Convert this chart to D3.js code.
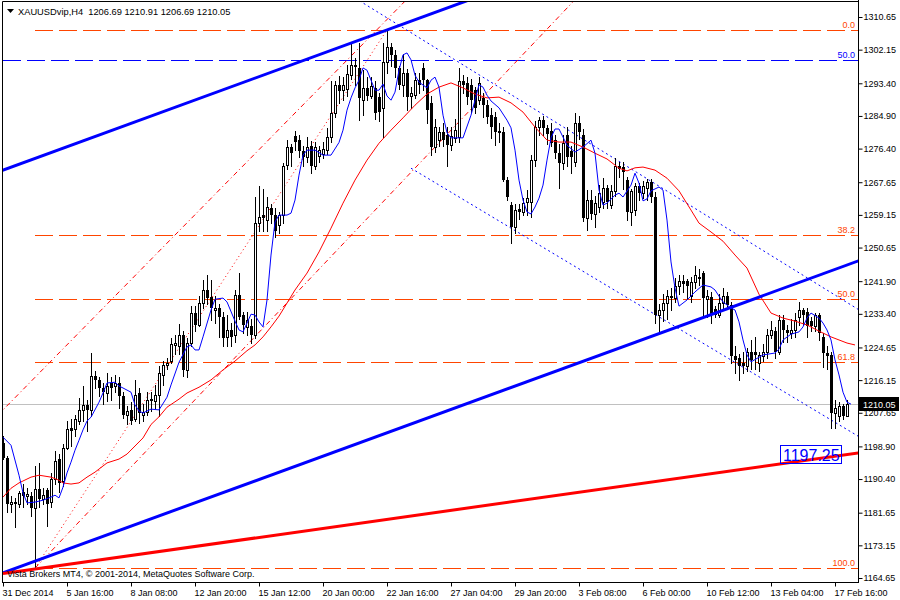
<!DOCTYPE html>
<html>
<head>
<meta charset="utf-8">
<script src="https://cdn.jsdelivr.net/npm/d3@7/dist/d3.min.js"></script>
<style>
	body { margin: 0; background: #fff; }
	text { font-family: "Liberation Sans", Arial, sans-serif; }
</style>
</head>
<body>
<script>

// ---------------- data (XAUUSDvip, H4) ----------------
var opens = [
	1199.9,1196.0,1184.0,1184.3,1183.8,1187.0,1186.0,1186.0,1182.8,1187.9,
	1185.1,1187.5,1184.3,1190.3,1195.5,1190.0,1198.5,1203.8,1203.3,1205.5,
	1208.5,1209.8,1208.5,1217.2,1216.3,1214.2,1212.9,1215.4,1214.6,1215.4,
	1212.1,1207.2,1208.5,1206.0,1212.9,1207.0,1207.9,1211.0,1210.6,1212.4,
	1217.6,1220.2,1221.0,1225.4,1224.9,1227.9,1218.9,1225.9,1233.5,1230.6,
	1236.3,1239.7,1237.9,1234.3,1235.0,1232.7,1227.5,1229.3,1228.0,1238.4,
	1233.2,1230.0,1230.2,1228.0,1257.1,1259.2,1257.9,1260.9,1259.0,1256.6,
	1259.2,1272.2,1276.9,1279.7,1278.7,1275.9,1274.3,1277.1,1271.8,1274.5,
	1275.0,1276.1,1279.5,1285.7,1293.0,1291.6,1291.9,1295.6,1298.2,1297.4,
	1289.1,1292.2,1290.2,1292.2,1289.9,1287.0,1299.0,1302.9,1300.8,1297.3,
	1293.0,1296.1,1290.0,1290.4,1294.3,1297.3,1294.3,1288.3,1276.9,1278.7,
	1280.8,1280.0,1277.4,1279.2,1279.5,1293.9,1293.5,1293.0,1291.7,1289.1,
	1289.6,1287.8,1285.2,1284.7,1281.0,1280.8,1268.3,1261.8,1256.1,1260.7,
	1260.0,1262.5,1262.6,1273.5,1282.1,1283.9,1281.8,1281.0,1278.7,1275.3,
	1272.7,1280.0,1275.9,1273.0,1283.0,1280.0,1258.3,1263.0,1259.5,1261.3,
	1262.6,1266.2,1261.8,1265.3,1271.8,1271.5,1268.3,1260.0,1260.5,1266.6,
	1264.9,1266.2,1267.8,1263.9,1233.2,1234.5,1236.3,1238.0,1237.4,1240.6,
	1241.9,1241.9,1238.0,1241.7,1243.0,1243.9,1237.3,1237.9,1234.6,1233.2,
	1236.3,1238.0,1235.8,1222.3,1222.0,1220.7,1219.7,1223.5,1223.5,1220.6,
	1222.3,1223.5,1228.0,1228.9,1223.5,1231.9,1229.1,1228.5,1229.1,1232.7,
	1234.5,1234.0,1231.5,1230.2,1233.2,1227.5,1223.1,1222.8,1207.6,1206.8,
	1209.4,1206.69
];
var highs = [
	1201.5,1196.5,1185.9,1185.5,1187.2,1189.0,1188.0,1187.0,1193.9,1194.7,
	1188.0,1188.0,1192.0,1197.6,1197.0,1199.4,1205.5,1206.0,1207.2,1211.5,
	1214.6,1211.0,1223.1,1218.5,1217.0,1215.5,1218.1,1217.0,1217.5,1217.0,
	1213.0,1209.5,1210.5,1216.3,1214.0,1210.0,1213.0,1213.0,1215.0,1219.8,
	1221.0,1222.0,1227.0,1227.9,1230.8,1229.0,1227.0,1235.4,1235.4,1238.0,
	1242.3,1243.6,1242.3,1238.0,1236.0,1234.0,1233.0,1231.0,1239.7,1244.0,
	1234.0,1234.0,1232.0,1263.9,1266.6,1266.0,1263.9,1262.0,1261.0,1260.0,
	1272.6,1278.7,1277.5,1281.0,1280.0,1277.0,1279.5,1278.5,1278.0,1277.0,
	1278.0,1281.8,1293.9,1293.9,1295.2,1295.0,1298.2,1303.8,1300.0,1303.8,
	1296.9,1295.0,1295.0,1294.0,1291.0,1303.8,1306.9,1304.0,1302.0,1298.0,
	1301.0,1297.0,1292.5,1296.0,1296.0,1298.7,1294.5,1290.0,1284.0,1282.0,
	1283.0,1282.0,1282.0,1284.0,1297.3,1295.6,1295.0,1294.5,1292.5,1295.0,
	1291.0,1289.0,1287.0,1286.0,1283.0,1282.0,1269.0,1262.6,1262.0,1262.0,
	1263.5,1265.5,1274.8,1283.5,1284.5,1285.0,1282.5,1283.0,1280.0,1277.5,
	1280.0,1282.0,1277.0,1285.6,1285.0,1281.5,1265.5,1265.5,1264.0,1267.0,
	1268.7,1267.0,1267.0,1273.9,1273.0,1273.0,1269.0,1266.0,1267.5,1267.5,
	1268.0,1268.5,1268.5,1265.0,1236.0,1238.5,1239.5,1240.0,1242.7,1243.5,
	1243.5,1242.5,1243.0,1245.8,1245.0,1244.5,1239.5,1239.0,1235.5,1238.5,
	1240.0,1239.0,1236.5,1225.0,1223.0,1223.5,1224.5,1226.7,1227.5,1223.5,
	1225.5,1229.5,1231.5,1230.0,1233.0,1233.0,1230.5,1232.0,1233.6,1236.6,
	1235.0,1234.9,1232.5,1233.5,1233.5,1228.5,1225.0,1223.5,1211.0,1210.5,
	1210.0,1210.91
];
var lows = [
	1195.5,1181.7,1181.7,1178.0,1183.0,1183.0,1184.0,1180.7,1166.9,1183.0,
	1184.0,1178.1,1183.0,1189.0,1187.0,1188.5,1198.1,1199.0,1201.6,1204.6,
	1205.5,1203.0,1206.8,1214.0,1212.0,1210.0,1210.7,1211.0,1213.0,1209.0,
	1206.4,1204.6,1204.6,1205.5,1205.0,1205.5,1207.0,1208.0,1209.0,1206.8,
	1215.0,1219.0,1220.5,1223.0,1223.0,1217.2,1217.0,1225.0,1229.0,1230.2,
	1235.0,1236.0,1231.9,1231.0,1227.5,1224.9,1225.0,1225.0,1226.0,1232.0,
	1228.5,1228.0,1225.9,1227.0,1255.0,1255.0,1255.0,1257.0,1253.5,1254.5,
	1257.0,1271.0,1272.0,1276.0,1274.3,1272.0,1273.0,1270.0,1271.0,1273.0,
	1274.0,1275.0,1278.0,1284.7,1288.3,1289.0,1290.0,1294.5,1293.0,1283.9,
	1285.2,1289.0,1289.5,1284.0,1283.5,1279.5,1296.0,1298.0,1295.0,1292.0,
	1290.0,1286.5,1287.0,1289.5,1291.0,1291.7,1283.0,1274.8,1275.5,1277.0,
	1277.0,1271.8,1276.0,1278.0,1278.0,1290.9,1288.0,1286.0,1285.6,1288.0,
	1284.7,1283.0,1279.1,1277.4,1278.0,1268.0,1263.0,1251.8,1254.4,1258.0,
	1259.0,1259.0,1258.7,1272.0,1280.0,1280.0,1277.5,1277.0,1273.9,1266.1,
	1271.0,1272.0,1270.0,1272.0,1279.0,1257.5,1255.3,1258.0,1256.1,1260.0,
	1261.0,1261.0,1261.0,1264.0,1269.0,1266.0,1257.9,1256.5,1259.0,1263.0,
	1263.5,1263.0,1262.5,1231.0,1228.4,1231.5,1232.0,1234.5,1236.5,1238.5,
	1239.0,1237.5,1236.5,1240.0,1241.0,1232.5,1232.7,1231.0,1232.5,1232.5,
	1235.0,1235.0,1220.6,1218.0,1216.3,1218.0,1218.5,1219.0,1219.0,1218.5,
	1221.0,1222.0,1227.0,1222.0,1223.0,1226.0,1226.0,1227.0,1227.5,1230.5,
	1230.5,1227.5,1229.0,1229.0,1226.5,1219.5,1219.0,1203.7,1203.7,1205.5,
	1205.9,1206.69
];
var closes = [
	1196.0,1183.8,1184.3,1184.0,1186.7,1186.0,1186.5,1182.8,1187.9,1185.1,
	1186.2,1183.8,1190.3,1195.2,1189.5,1198.5,1203.3,1203.0,1205.9,1208.5,
	1209.8,1208.5,1217.2,1216.3,1214.2,1213.0,1214.6,1214.2,1215.4,1211.9,
	1207.2,1208.0,1205.5,1212.4,1207.7,1207.9,1211.0,1211.3,1212.4,1218.1,
	1220.2,1220.7,1225.6,1225.9,1227.9,1218.9,1225.9,1233.5,1230.6,1236.3,
	1239.7,1237.6,1235.0,1235.0,1232.7,1227.2,1229.3,1227.5,1238.4,1232.7,
	1230.6,1231.9,1228.0,1257.1,1258.7,1258.4,1261.3,1259.2,1255.0,1259.2,
	1271.8,1276.9,1275.3,1278.2,1275.7,1274.3,1276.9,1271.8,1276.9,1276.1,
	1276.4,1279.5,1285.7,1293.0,1291.5,1293.0,1295.8,1298.2,1297.7,1289.6,
	1292.1,1290.2,1292.8,1285.7,1286.0,1299.0,1302.9,1300.8,1297.3,1293.0,
	1296.1,1289.9,1291.0,1294.3,1293.0,1294.3,1286.5,1276.9,1282.1,1280.8,
	1278.7,1277.4,1279.7,1281.3,1293.9,1293.0,1289.9,1289.1,1286.9,1293.5,
	1287.8,1284.7,1282.1,1280.8,1280.5,1268.3,1263.9,1256.1,1260.5,1260.0,
	1262.3,1263.5,1273.5,1282.1,1283.9,1281.8,1280.1,1277.9,1275.3,1272.7,
	1277.9,1274.3,1274.3,1283.0,1280.8,1258.3,1263.0,1259.5,1262.3,1264.9,
	1266.2,1262.6,1265.3,1271.8,1271.0,1270.4,1260.0,1265.3,1266.6,1264.9,
	1266.6,1267.8,1263.9,1233.2,1234.5,1236.3,1238.0,1237.6,1240.6,1241.9,
	1241.2,1240.6,1241.7,1243.4,1242.5,1237.6,1238.0,1233.2,1233.2,1236.3,
	1238.0,1235.8,1222.3,1221.5,1219.7,1219.7,1223.5,1221.3,1222.7,1222.7,
	1223.5,1227.9,1229.1,1223.5,1231.9,1229.1,1228.5,1229.3,1231.9,1234.5,
	1233.2,1230.2,1230.2,1233.2,1228.4,1223.1,1222.5,1207.6,1208.9,1209.4,
	1206.7,1210.05
];

// moving averages as drawn: [bar, price]
var fastMa = [
	[0,1201.3],[2,1199.2],[4,1191.4],[5,1186.8],[6,1184.2],[8,1184.4],[10,1184.9],[12,1185.7],[13,1186.2],[14,1185.5],
	[15,1188.3],[16,1192.0],[17,1194.8],[18,1197.9],[19,1200.5],[20,1203.2],[21,1205.5],[22,1206.5],[24,1210.4],[25,1212.8],
	[26,1215.4],[28,1215.6],[29,1214.6],[30,1214.1],[32,1213.0],[33,1209.7],[34,1208.1],[35,1207.6],[37,1208.6],[39,1208.4],
	[41,1211.7],[42,1214.9],[44,1220.8],[46,1224.8],[47,1225.3],[48,1224.0],[49,1224.0],[50,1227.4],[52,1234.4],[53,1237.2],
	[55,1237.5],[56,1236.5],[58,1231.5],[59,1229.2],[60,1228.7],[61,1231.0],[62,1233.3],[63,1233.1],[64,1231.3],[65,1230.0],
	[66,1237.0],[67,1248.7],[68,1257.3],[69,1259.1],[71,1259.1],[72,1259.6],[73,1263.0],[74,1269.5],[75,1274.7],[76,1276.0],
	[78,1276.0],[80,1274.7],[82,1274.7],[84,1278.0],[85,1281.2],[86,1286.4],[87,1289.6],[88,1292.2],[89,1294.2],[90,1297.4],
	[91,1296.8],[92,1294.2],[93,1291.6],[94,1291.6],[95,1293.2],[96,1290.1],[97,1289.0],[98,1291.1],[99,1296.8],[100,1300.8],
	[101,1301.3],[102,1299.5],[103,1295.5],[104,1293.7],[106,1292.2],[107,1294.2],[108,1295.0],[109,1292.4],[110,1285.1],[111,1280.5],
	[112,1279.2],[115,1279.2],[117,1285.1],[118,1289.0],[119,1293.0],[120,1292.4],[121,1290.3],[122,1288.8],[124,1287.0],[126,1283.8],
	[127,1281.8],[128,1276.0],[129,1268.2],[130,1263.0],[131,1259.9],[132,1259.4],[133,1261.2],[134,1263.5],[135,1266.9],[136,1273.4],
	[137,1279.2],[138,1281.5],[139,1281.5],[141,1277.3],[143,1275.5],[145,1276.8],[147,1278.6],[148,1275.2],[149,1265.6],[150,1261.7],
	[151,1262.2],[153,1264.3],[154,1264.8],[155,1263.8],[157,1266.9],[158,1270.0],[159,1267.4],[160,1262.8],[161,1263.3],[162,1265.4],
	[164,1266.4],[165,1265.6],[166,1257.8],[167,1246.9],[168,1240.1],[169,1235.4],[171,1237.0],[173,1239.1],[175,1240.9],[177,1240.4],
	[178,1239.6],[179,1238.0],[180,1236.5],[182,1234.9],[183,1234.4],[184,1231.3],[185,1226.6],[186,1222.7],[187,1220.9],[190,1222.7],
	[193,1223.2],[194,1224.2],[195,1226.6],[197,1228.1],[199,1228.7],[200,1230.0],[201,1232.3],[202,1233.6],[204,1232.3],[205,1231.0],
	[206,1229.2],[207,1226.6],[208,1221.4],[209,1217.5],[210,1213.0],[211,1210.4],[212,1209.9]
];
var slowMa = [
	[0,1185.7],[2,1188.0],[4,1189.4],[7,1190.9],[9,1191.4],[12,1190.9],[14,1190.1],[15,1189.4],[17,1189.1],[19,1189.4],
	[21,1190.9],[23,1192.2],[26,1194.6],[29,1195.6],[31,1196.9],[33,1199.0],[35,1201.1],[37,1204.6],[39,1206.6],[41,1209.1],
	[44,1211.2],[46,1212.8],[49,1214.3],[52,1216.2],[55,1218.8],[58,1221.1],[61,1223.8],[63,1225.3],[65,1227.4],[67,1230.0],
	[69,1232.8],[71,1236.2],[73,1239.6],[76,1244.0],[79,1249.5],[82,1255.7],[85,1262.2],[88,1268.2],[91,1273.4],[94,1277.8],
	[97,1281.2],[100,1284.4],[103,1287.7],[106,1290.6],[109,1292.4],[112,1293.5],[115,1292.2],[118,1290.6],[121,1289.6],[124,1289.8],
	[127,1288.3],[130,1285.9],[133,1282.0],[136,1278.6],[139,1278.1],[142,1278.1],[145,1276.8],[148,1275.2],[151,1273.7],[154,1271.3],
	[156,1270.6],[158,1271.4],[160,1271.6],[163,1270.8],[166,1268.7],[169,1265.4],[172,1260.4],[174,1257.0],[177,1254.7],[180,1252.3],
	[183,1248.7],[186,1245.3],[189,1238.5],[192,1233.6],[195,1232.3],[198,1231.5],[201,1230.5],[204,1228.9],[207,1227.4],[211,1225.8],
	[213,1225.3]
];

// objects drawn on the chart: two anchor points [bar, price]
var upperTrend = [[0, 1270.8], [100, 1308.8]];
var lowerTrend = [[0, 1166.0], [211, 1246.1]];
var redTrend   = [[0, 1165.8], [211, 1196.8]];
var chanTop    = [[90, 1314.3], [210, 1237.0]];
var chanBottom = [[102, 1271.3], [211, 1203.3]];
var redChanA   = [[0, 1208.4], [96, 1310.0]];
var redChanB   = [[8, 1167.2], [108, 1276.8]];
var fiboDiag   = [[8, 1167.2], [96, 1307.3]];

var fiboNames  = ['0.0', '38.2', '50.0', '61.8', '100.0'];
var fiboPrices = [1307.3, 1253.8, 1237.3, 1220.8, 1167.2];
var fiboStartBar = 8;
var blueLevel = 1299.45;
var lastPrice = 1210.05;
var trendLabel = '1197.25';

var priceTicks = [1310.65,1302.15,1293.40,1284.90,1276.40,1267.65,1259.15,1250.65,1241.90,
	1233.40,1224.65,1216.15,1207.65,1198.90,1190.40,1181.65,1173.15,1164.65];
var dateBars = [0,16,32,48,64,80,96,112,128,144,160,176,192,208];
var dateLabels = ['31 Dec 2014','5 Jan 16:00','8 Jan 08:00','12 Jan 20:00','15 Jan 12:00','20 Jan 00:00',
	'22 Jan 16:00','27 Jan 04:00','29 Jan 20:00','3 Feb 08:00','6 Feb 00:00','10 Feb 12:00','13 Feb 04:00','17 Feb 16:00'];

// ---------------- layout ----------------
var W = 900, H = 600;
var LEFT = 3, TOP = 2, RIGHT = 858, BOTTOM = 582;

var x = d3.scaleLinear().domain([0, 211]).range([3, 847]);
var y = d3.scaleLinear().domain([1164.65, 1310.65]).range([578, 17]);

var svg = d3.select('body').append('svg')
	.attr('width', W)
	.attr('height', H)
	.style('display', 'block');

svg.append('defs').append('clipPath').attr('id', 'plot')
	.append('rect')
	.attr('x', LEFT).attr('y', TOP)
	.attr('width', RIGHT - LEFT).attr('height', BOTTOM - TOP);

var plot = svg.append('g').attr('clip-path', 'url(#plot)');

// line through two anchors, stretched to the plot edges (ray from start if fromStart)
function segment(pts, fromStart) {
	var x1 = x(pts[0][0]), y1 = y(pts[0][1]);
	var x2 = x(pts[1][0]), y2 = y(pts[1][1]);
	var k = (y2 - y1) / (x2 - x1);
	var xa = fromStart ? x1 : LEFT - 5;
	var xb = RIGHT + 5;
	return [[xa, y1 + k * (xa - x1)], [xb, y1 + k * (xb - x1)]];
}

function drawLine(pts, fromStart, color, width, dash) {
	var s = segment(pts, fromStart);
	plot.append('line')
		.attr('x1', s[0][0]).attr('y1', s[0][1])
		.attr('x2', s[1][0]).attr('y2', s[1][1])
		.attr('stroke', color)
		.attr('stroke-width', width)
		.attr('stroke-dasharray', dash || null);
}

// ------------------------ horizontal levels ------------------------
var ORANGE = '#ff4500';

plot.append('line')
	.attr('x1', LEFT).attr('x2', RIGHT)
	.attr('y1', Math.round(y(lastPrice)) + 0.5).attr('y2', Math.round(y(lastPrice)) + 0.5)
	.attr('stroke', '#c0c0c0');

plot.append('line')
	.attr('x1', LEFT).attr('x2', RIGHT)
	.attr('y1', Math.round(y(blueLevel)) + 0.5).attr('y2', Math.round(y(blueLevel)) + 0.5)
	.attr('stroke', '#0000ff')
	.attr('stroke-dasharray', '18,6');

plot.append('text')
	.attr('x', RIGHT - 3).attr('y', Math.round(y(blueLevel)) - 2)
	.attr('text-anchor', 'end')
	.attr('font-size', 9)
	.attr('fill', '#0000ff')
	.text('50.0');

fiboPrices.forEach(function(p, i) {
	var yy = Math.round(y(p)) + 0.5;
	plot.append('line')
		.attr('x1', x(fiboStartBar)).attr('x2', RIGHT)
		.attr('y1', yy).attr('y2', yy)
		.attr('stroke', ORANGE)
		.attr('stroke-dasharray', '18,6');
	plot.append('text')
		.attr('x', RIGHT - 3).attr('y', yy - 2.5)
		.attr('text-anchor', 'end')
		.attr('font-size', 9)
		.attr('fill', ORANGE)
		.text(fiboNames[i]);
});

// ------------------------ thin dashed / dotted objects ------------------------
drawLine(redChanA, false, '#ff0000', 1, '5,3,1,3');
drawLine(redChanB, true, '#ff0000', 1, '5,3,1,3');
drawLine(chanTop, false, '#0000ff', 1, '2,3');
drawLine(chanBottom, true, '#0000ff', 1, '2,3');

// fibo diagonal only between its anchors
plot.append('line')
	.attr('x1', x(fiboDiag[0][0])).attr('y1', y(fiboDiag[0][1]))
	.attr('x2', x(fiboDiag[1][0])).attr('y2', y(fiboDiag[1][1]))
	.attr('stroke', '#ff0000')
	.attr('stroke-dasharray', '1,3');

// ------------------------ candles ------------------------
var bars = d3.range(opens.length).map(function(i) {
	return { i: i, o: opens[i], h: highs[i], l: lows[i], c: closes[i] };
});

var candle = plot.append('g').selectAll('g')
	.data(bars)
	.enter()
	.append('g');

candle.append('line')
	.attr('x1', function(d) { return Math.round(x(d.i)) + 0.5; })
	.attr('x2', function(d) { return Math.round(x(d.i)) + 0.5; })
	.attr('y1', function(d) { return Math.round(y(d.h)); })
	.attr('y2', function(d) { return Math.round(y(d.l)) + 1; })
	.attr('stroke', '#000');

candle.append('rect')
	.attr('x', function(d) { return d.c >= d.o ? Math.round(x(d.i)) - 0.5 : Math.round(x(d.i)) - 1; })
	.attr('width', function(d) { return d.c >= d.o ? 2 : 3; })
	.attr('y', function(d) {
		var t = Math.round(y(Math.max(d.o, d.c)));
		return d.c >= d.o ? t + 0.5 : t;
	})
	.attr('height', function(d) {
		var hgt = Math.round(y(Math.min(d.o, d.c))) - Math.round(y(Math.max(d.o, d.c)));
		return d.c >= d.o ? Math.max(hgt, 1) : Math.max(hgt, 1);
	})
	.attr('fill', function(d) { return d.c >= d.o ? '#fff' : '#000'; })
	.attr('stroke', function(d) { return d.c >= d.o ? '#000' : 'none'; });

// ------------------------ moving averages ------------------------
var maLine = d3.line()
	.x(function(d) { return x(d[0]); })
	.y(function(d) { return y(d[1]); });

plot.append('path').datum(slowMa)
	.attr('d', maLine)
	.attr('fill', 'none')
	.attr('stroke', '#ff0000');

plot.append('path').datum(fastMa)
	.attr('d', maLine)
	.attr('fill', 'none')
	.attr('stroke', '#0000ff');

// ------------------------ thick trend lines ------------------------
drawLine(upperTrend, false, '#0000ff', 3);
drawLine(lowerTrend, true, '#0000ff', 3);
drawLine(redTrend, true, '#ff0000', 3);

// price label of the red trend line
var ly = y(1197.25);
plot.append('rect')
	.attr('x', 780.5).attr('y', 445.5)
	.attr('width', 61).attr('height', 18)
	.attr('fill', 'none')
	.attr('stroke', '#0000ff');
plot.append('text')
	.attr('x', 783).attr('y', 461)
	.attr('font-size', 16)
	.attr('fill', '#0000ff')
	.text(trendLabel);

// ------------------------ frame & axes ------------------------
svg.append('path')
	.attr('d', 'M2.5,' + BOTTOM + 'V1.5H' + RIGHT)
	.attr('fill', 'none')
	.attr('stroke', '#000');

var yAxis = svg.append('g')
	.attr('transform', 'translate(' + (RIGHT + 0.5) + ',0)')
	.call(d3.axisRight(y).tickValues(priceTicks).tickSize(4).tickPadding(1).tickFormat(d3.format('.2f')));
yAxis.select('.domain').attr('d', 'M0,0V' + (BOTTOM + 1));
yAxis.selectAll('text').attr('font-size', 9).attr('font-family', '"Liberation Sans", Arial, sans-serif').attr('fill', '#000');

var xAxis = svg.append('g')
	.attr('transform', 'translate(0,' + (BOTTOM + 0.5) + ')')
	.call(d3.axisBottom(x).tickValues(dateBars).tickSize(4).tickPadding(3)
		.tickFormat(function(d, i) { return dateLabels[i]; }));
xAxis.select('.domain').attr('d', 'M2,0H' + (RIGHT + 1));
xAxis.selectAll('text')
	.attr('text-anchor', 'start')
	.attr('x', -1)
	.attr('font-size', 9)
	.attr('font-family', '"Liberation Sans", Arial, sans-serif')
	.attr('fill', '#000');

// current price marker on the scale
var cy = Math.round(y(lastPrice));
svg.append('rect')
	.attr('x', RIGHT + 1).attr('y', cy - 7)
	.attr('width', 40).attr('height', 14)
	.attr('fill', '#000');
svg.append('text')
	.attr('x', RIGHT + 5).attr('y', cy + 3.5)
	.attr('font-size', 9)
	.attr('fill', '#fff')
	.text(d3.format('.2f')(lastPrice));

// ------------------------ captions ------------------------
svg.append('path')
	.attr('d', 'M7,9H14L10.5,13Z')
	.attr('fill', '#000');
svg.append('text')
	.attr('x', 18).attr('y', 15)
	.attr('font-size', 9.3)
	.attr('fill', '#000')
	.attr('xml:space', 'preserve')
	.text('XAUUSDvip,H4  1206.69 1210.91 1206.69 1210.05');

svg.append('text')
	.attr('x', 7).attr('y', 577)
	.attr('font-size', 9)
	.attr('fill', '#000')
	.text('Vista Brokers MT4, \u00a9 2001-2014, MetaQuotes Software Corp.');

</script>
</body>
</html>
